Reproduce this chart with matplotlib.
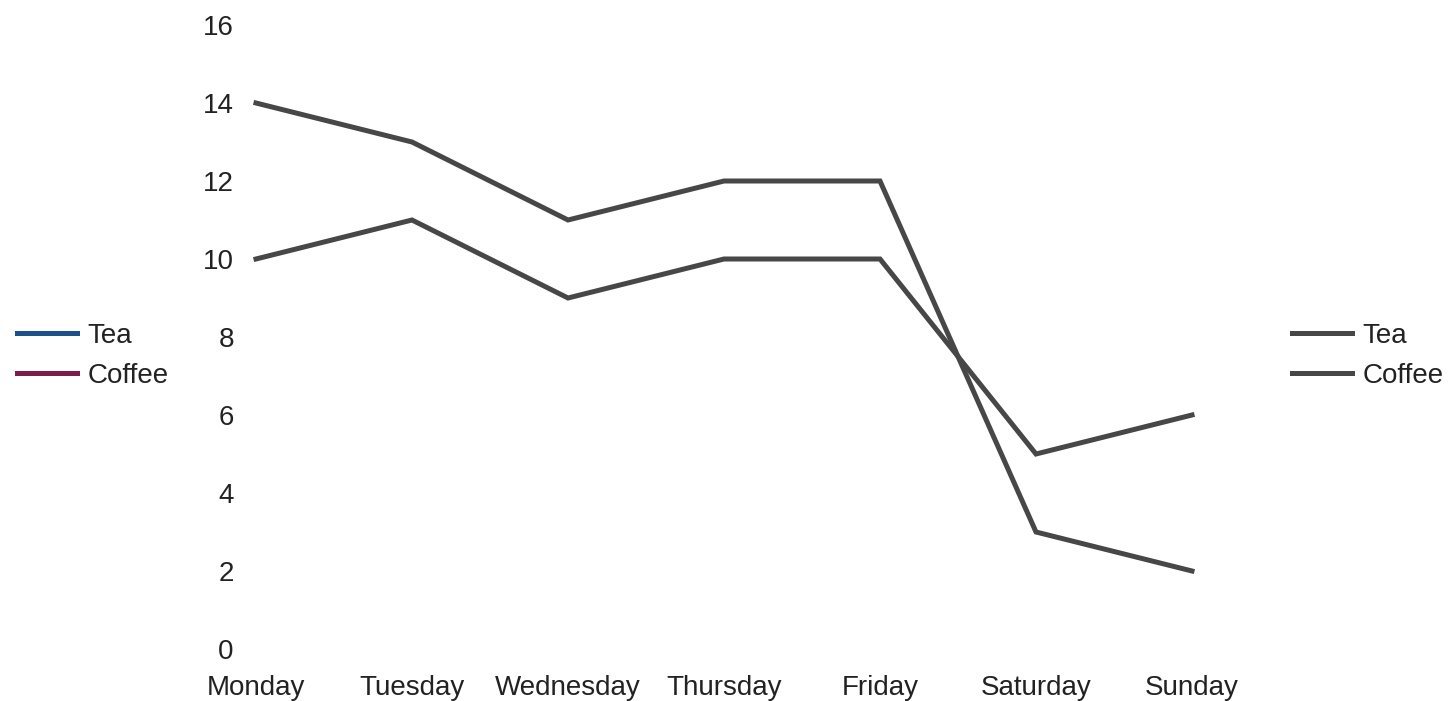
import matplotlib.pyplot as plt
from matplotlib.lines import Line2D

plt.rcParams['font.family'] = ['Liberation Sans', 'DejaVu Sans']

days = ['Monday', 'Tuesday', 'Wednesday', 'Thursday', 'Friday', 'Saturday', 'Sunday']
tea = [14, 13, 11, 12, 12, 3, 2]
coffee = [10, 11, 9, 10, 10, 5, 6]
series_names = ['Tea', 'Coffee']
yticks = [0, 2, 4, 6, 8, 10, 12, 14, 16]

line_color = '#474747'

fig = plt.figure(figsize=(14.52, 7.01), dpi=100)
ax = fig.add_axes([256 / 1452, 52 / 701, 936 / 1452, 624 / 701])

x = list(range(len(days)))
ax.plot(x, tea, color=line_color, lw=3.6, clip_on=False, solid_joinstyle='miter')
ax.plot(x, coffee, color=line_color, lw=3.6, clip_on=False, solid_joinstyle='miter')

ax.set_xlim(0, len(days) - 1)
ax.set_ylim(0, 16)
ax.set_xticks(x)
ax.set_xticklabels(days)
ax.set_yticks(yticks)
ax.tick_params(axis='both', length=0, labelsize=20, colors='#222222')
ax.tick_params(axis='x', pad=18.5)
ax.tick_params(axis='y', pad=16)
for s in ax.spines.values():
    s.set_visible(False)

# left legend (coloured), right legend (grey, matching lines)
left_handles = [Line2D([], [], color='#1d4f8b', lw=3.6),
                Line2D([], [], color='#7b1e4b', lw=3.6)]
right_handles = [Line2D([], [], color=line_color, lw=3.6),
                 Line2D([], [], color=line_color, lw=3.6)]
leg_kw = dict(frameon=False, fontsize=20, handlelength=2.15, handletextpad=0.38,
              labelspacing=0.5, borderpad=0, borderaxespad=0, labelcolor='#222222')
leg1 = fig.legend(left_handles, series_names, loc='center left',
                  bbox_to_anchor=(17 / 1452, 1 - 356 / 701), **leg_kw)
leg2 = fig.legend(right_handles, series_names, loc='center left',
                  bbox_to_anchor=(1292 / 1452, 1 - 356 / 701), **leg_kw)

fig.savefig('out.png', dpi=100)
